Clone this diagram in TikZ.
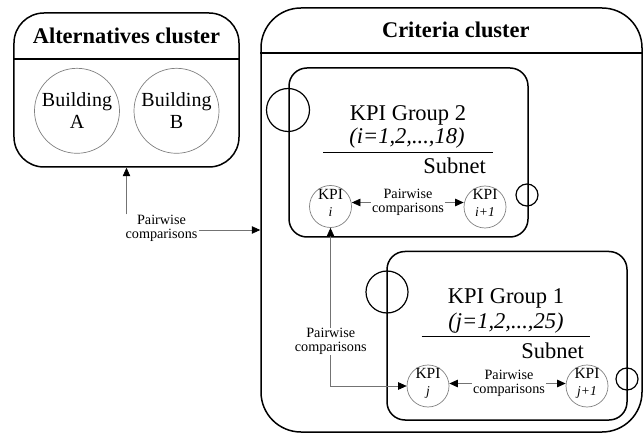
\documentclass[tikz,border=0pt]{standalone}
\usepackage{fontspec}
\setmainfont{Liberation Serif}
\usetikzlibrary{arrows.meta,calc}
\newcommand{\kvarfont}{\fontsize{13.5bp}{16.7bp}\selectfont\itshape}
\begin{document}
\begin{tikzpicture}[x=1bp,y=-1bp,
  >={Triangle[length=8.5bp,width=7.5bp,color=black]},
  box/.style={draw, line width=1.5bp, rounded corners=#1, inner sep=0pt},
  deco/.style={draw, circle, line width=1.2bp, inner sep=0pt, minimum size=#1},
  bcirc/.style={draw=black!50, circle, line width=0.7bp, inner sep=0pt, minimum size=85bp, align=center, font=\fontsize{20bp}{21.6bp}\selectfont},
  kpi/.style={draw=black!50, circle, line width=0.7bp, inner sep=0pt, minimum size=42bp},
  kpitxt/.style={align=center, inner sep=0pt, font=\fontsize{15.5bp}{16.7bp}\selectfont},
  pw/.style={align=center, inner sep=1bp, font=\fontsize{14.2bp}{13.5bp}\selectfont},
  conn/.style={draw=black!55, line width=0.7bp},
  ttl/.style={font=\fontsize{22.4bp}{26bp}\selectfont\bfseries, anchor=base, inner sep=0pt},
  grp/.style={font=\fontsize{22.5bp}{26bp}\selectfont, anchor=base, inner sep=0pt},
  sep/.style={line width=1.4bp},
  rule/.style={line width=1.2bp}
]
\useasboundingbox (0,0) rectangle (644,433);

% Alternatives cluster
\node[box=30bp, minimum width=225bp, minimum height=154bp] (alt) at (126.5,90) {};
\coordinate (altsepy) at (0,59);
\draw[sep] (alt.west |- altsepy) -- (alt.east |- altsepy);
\node[ttl] (alttitle) at (126.5,43.4) {Alternatives cluster};
\node[bcirc] (bA) at (77,110.8) {Building\\A};
\node[bcirc] (bB) at (176.5,110.8) {Building\\B};

% Criteria cluster
\node[box=40bp, minimum width=381bp, minimum height=424bp] (crit) at (451.5,220) {};
\coordinate (critsepy) at (0,53);
\draw[sep] (crit.west |- critsepy) -- (crit.east |- critsepy);
\node[ttl] (crittitle) at (455.8,37.7) {Criteria cluster};

% KPI Group 2
\node[box=18bp, minimum width=239bp, minimum height=169bp] (g2) at (408.5,152.5) {};
\node[deco=43bp] (g2a) at (288,110) {};
\node[deco=22bp] (g2b) at (527,195) {};
\node[grp] (g2t) at (408,120.7) {KPI Group 2};
\node[grp] (g2r) at (407,143.3) {\textit{(i=1,2,...,18)}};
\draw[rule] (323,152.3) -- (493,152.3);
\node[grp, anchor=base east] (g2s) at (486,174) {Subnet};
\node[kpi] (kpii) at (330.5,206.5) {};
\node[kpitxt] (kpiit) at ([yshift=3.8bp]kpii.center) {KPI\\{\kvarfont i}};
\node[kpi] (kpii1) at (485,207) {};
\node[kpitxt] (kpii1t) at ([yshift=3.8bp]kpii1.center) {KPI\\{\kvarfont i+1}};
\node[pw] (pw2) at (408,202.5) {Pairwise\\comparisons};
\draw[conn,->] (pw2.west) -- (pw2.west -| kpii.east);
\draw[conn,->] (pw2.east) -- (pw2.east -| kpii1.west);

% KPI Group 1
\node[box=18bp, minimum width=240bp, minimum height=168.5bp] (g1) at (507,335.75) {};
\node[deco=42bp] (g1a) at (387,292) {};
\node[deco=22bp] (g1b) at (627,379) {};
\node[grp] (g1t) at (506,304) {KPI Group 1};
\node[grp] (g1r) at (506,328.3) {\textit{(j=1,2,...,25)}};
\draw[rule] (421.7,336.7) -- (590,336.7);
\node[grp, anchor=base east] (g1s) at (584,358.3) {Subnet};
\node[kpi] (kpij) at (428,386) {};
\node[kpitxt] (kpijt) at ([yshift=2.5bp]kpij.center) {KPI\\{\kvarfont j}};
\node[kpi] (kpij1) at (587,386) {};
\node[kpitxt] (kpij1t) at ([yshift=2.5bp]kpij1.center) {KPI\\{\kvarfont j+1}};
\node[pw] (pw3) at (509,383.5) {Pairwise\\comparisons};
\draw[conn,->] (pw3.west) -- (pw3.west -| kpij.east);
\draw[conn,->] (pw3.east) -- (pw3.east -| kpij1.west);

% Between groups
\draw[conn,<->] (kpii.south) |- (kpij.west);
\node[pw, fill=white] (pw4) at (330.8,341.5) {Pairwise\\comparisons};

% Alternatives <-> Criteria
\node[pw] (pw1) at (161.5,228.5) {Pairwise\\comparisons};
\draw[conn,->] (alt.south |- pw1.north) -- (alt.south);
\draw[conn,->] ([yshift=-1.5bp]pw1.east) -- ([yshift=-1.5bp]pw1.east -| crit.west);
\end{tikzpicture}
\end{document}
